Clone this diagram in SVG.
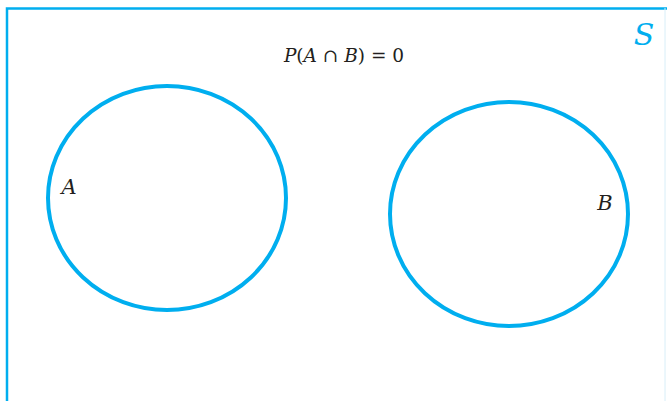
<svg xmlns="http://www.w3.org/2000/svg" width="667" height="401" viewBox="0 0 667 401">
<style>
.set{fill:none;stroke:#00aeef;stroke-width:4}
.lbl{font-family:"DejaVu Serif","Liberation Serif",serif;font-style:italic;font-size:21px;fill:#231f20}
.eq{font-family:"DejaVu Serif","Liberation Serif",serif;font-size:18.5px;fill:#231f20}
</style>
<rect width="667" height="401" fill="#fff"/>
<g id="frame">
<path d="M7 401 V8.5 H667" fill="none" stroke="#00aeef" stroke-width="2.5"/>
<line x1="665" y1="8" x2="665" y2="401" stroke="#d8eef8" stroke-width="1"/>
</g>
<g id="S"><text x="644" y="45" text-anchor="middle" font-family="DejaVu Serif,serif" font-style="italic" font-size="30" fill="#00aeef">S</text></g>
<g id="equation"><text x="344" y="62" text-anchor="middle" class="eq"><tspan font-style="italic">P</tspan>(<tspan font-style="italic">A</tspan> ∩ <tspan font-style="italic">B</tspan>) = 0</text></g>
<g id="setA">
<ellipse class="set" cx="167" cy="198" rx="119" ry="112"/>
<text x="69" y="194" class="lbl" text-anchor="middle">A</text>
</g>
<g id="setB">
<ellipse class="set" cx="509" cy="214" rx="119" ry="112"/>
<text x="605" y="210" class="lbl" text-anchor="middle">B</text>
</g>
<g id="connectors"/>
</svg>
